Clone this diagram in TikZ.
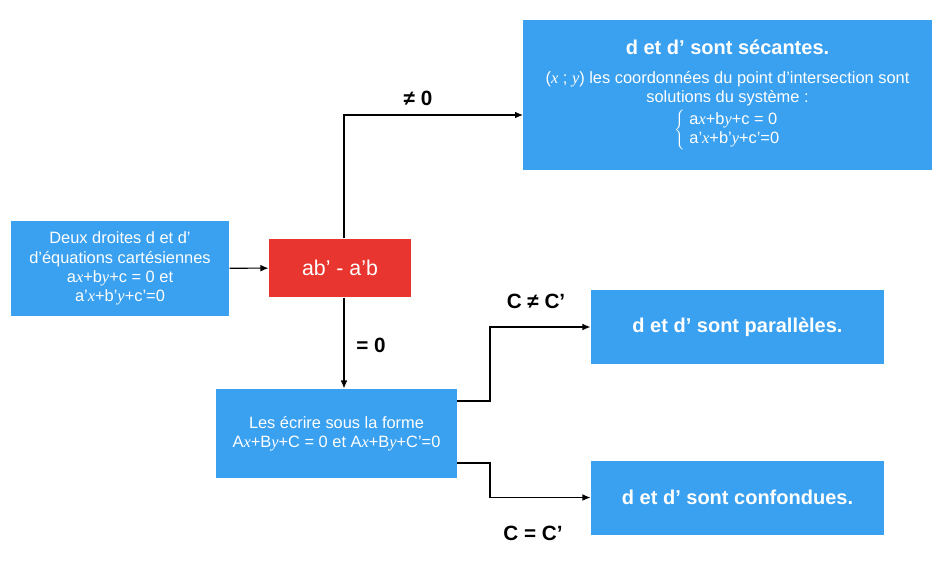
\documentclass[tikz,border=0pt]{standalone}
\usepackage{fontspec}
\setmainfont{Liberation Sans}
\newfontfamily\serifit[ItalicFont={Liberation Serif Italic}]{Liberation Serif}
\newcommand{\vx}{{\serifit\itshape x}}
\newcommand{\vy}{{\serifit\itshape y}}
\usetikzlibrary{positioning,arrows.meta}
\definecolor{boxblue}{HTML}{3AA0F0}
\definecolor{boxred}{HTML}{E9352F}
\begin{document}
\begin{tikzpicture}[x=0.75pt,y=-0.75pt,->,>={Latex[length=6pt,width=5pt]},thick,
  blue box/.style={fill=boxblue,text=white,align=center,inner sep=2pt,font=\fontsize{12.3}{14.5}\selectfont},
  title/.style={font=\fontsize{15}{18}\selectfont\bfseries},
  lbl/.style={font=\fontsize{15.5}{18}\selectfont\bfseries}]
\useasboundingbox (0,0) rectangle (952,561);
\node[blue box,minimum width=163.5pt,minimum height=71.25pt] (start) at (120,268.5) {Deux droites d et d'\\d'équations cartésiennes\\a\vx+b\vy+c = 0 et\\a'\vx+b'\vy+c'=0};
\node[fill=boxred,text=white,minimum width=106.5pt,minimum height=43.5pt,font=\fontsize{16}{19}\selectfont] (det) at (340,268) {ab' - a'b};
\node[blue box,minimum width=306.75pt,minimum height=112.5pt] (sec) at (727.5,95) {{\fontsize{15}{18}\selectfont\bfseries d et d' sont sécantes.}\\[7pt]
  (\vx\ ; \vy) les coordonnées du point d'intersection sont\\solutions du système :\\[2pt]
  $\left\{\;\hbox{\begin{tabular}{@{}l@{}}a\vx+b\vy+c = 0\\a'\vx+b'\vy+c'=0\end{tabular}}\right.$};
\node[blue box,minimum width=180.75pt,minimum height=66.75pt] (form) at (336.5,433.5) {Les écrire sous la forme\\A\vx+B\vy+C = 0 et A\vx+B\vy+C'=0};
\node[blue box,title,minimum width=219.75pt,minimum height=55.5pt] (par) at (737.5,327) {d et d' sont parallèles.};
\node[blue box,title,minimum width=219.75pt,minimum height=55.5pt] (conf) at (737.5,497.5) {d et d' sont confondues.};
\coordinate (t) at (523,115);
\coordinate (o1) at (457,401);
\coordinate (o2) at (457,463);
\coordinate (k1) at (490,401);
\coordinate (k2) at (490,463);
\draw (start) -- (det);
\draw (det.north -| 344,0) |- (t);
\draw (det.south -| 344,0) -- (form.north -| 344,0);
\draw (o1) -- (k1) |- (par.west);
\draw (o2) -- (k2) |- (conf.west);
\node[lbl] (ne) at (418,98) {≠ 0};
\node[lbl] (eq) at (371,345) {= 0};
\node[lbl] (cne) at (536,301) {C ≠ C'};
\node[lbl] (ceq) at (533,533) {C = C'};
\end{tikzpicture}
\end{document}
